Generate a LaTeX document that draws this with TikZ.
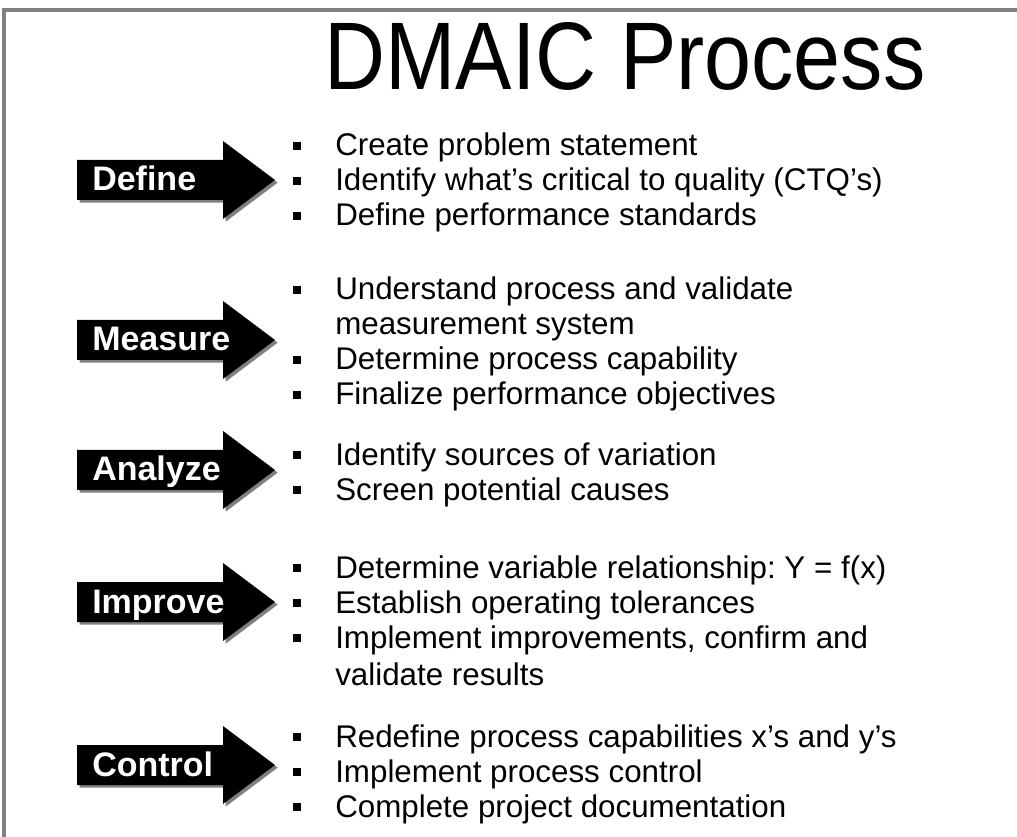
\documentclass[tikz,border=0pt]{standalone}
\usepackage{fontspec}
\setmainfont{Liberation Sans}
\frenchspacing

\begin{document}
\begin{tikzpicture}[x=0.75pt, y=-0.75pt,
    stepLabel/.style={anchor=base west, inner sep=0pt, text=white, font=\fontsize{25.5}{28}\selectfont\bfseries},
    bulletText/.style={anchor=base west, inner sep=0pt, font=\fontsize{23.5}{27}\selectfont},
    bulletMark/.style={fill=black, inner sep=0pt, minimum size=6pt}]
				
				% page and frame
				\useasboundingbox (0,0) rectangle (1017,837);
				\draw[gray, line width=2.5pt] (4,837) -- (4,10) -- (1017,10);
				
				% title
				\node[anchor=base, inner sep=0pt, xscale=0.88, font=\fontsize{72}{78}\selectfont] (title) at (625,90) {DMAIC Process};
				
				% draw the block arrows with their shadow
				\foreach \y in {180,340,470,602,765}
				{
				\fill[black!50, xshift=2pt, yshift=-2pt] (77,\y-20) -- (223,\y-20) -- (223,\y-39) -- (275,\y) -- (223,\y+39) -- (223,\y+20) -- (77,\y+20) -- cycle;
				\fill[black] (77,\y-20) -- (223,\y-20) -- (223,\y-39) -- (275,\y) -- (223,\y+39) -- (223,\y+20) -- (77,\y+20) -- cycle;
				}
				
				% step names
				\node[stepLabel] (define) at (92,191) {Define};
				\node[stepLabel] (measure) at (92,351) {Measure};
				\node[stepLabel] (analyze) at (92,481) {Analyze};
				\node[stepLabel] (improve) at (92,613) {Improve};
				\node[stepLabel] (control) at (92,776) {Control};
				
				% define
				\node[bulletMark] (d1) at (297,146) {};
				\node[bulletText] (d1t) at (335,156) {Create problem statement};
				\node[bulletMark] (d2) at (297,181) {};
				\node[bulletText] (d2t) at (335,191) {Identify what’s critical to quality (CTQ’s)};
				\node[bulletMark] (d3) at (297,216) {};
				\node[bulletText] (d3t) at (335,226) {Define performance standards};
				
				% measure
				\node[bulletMark] (m1) at (297,290) {};
				\node[bulletText] (m1t) at (335,300) {Understand process and validate};
				\node[bulletText] (m1u) at (335,335) {measurement system};
				\node[bulletMark] (m2) at (297,360) {};
				\node[bulletText] (m2t) at (335,370) {Determine process capability};
				\node[bulletMark] (m3) at (297,395) {};
				\node[bulletText] (m3t) at (335,405) {Finalize performance objectives};
				
				% analyze
				\node[bulletMark] (a1) at (297,455) {};
				\node[bulletText] (a1t) at (335,465) {Identify sources of variation};
				\node[bulletMark] (a2) at (297,490) {};
				\node[bulletText] (a2t) at (335,500) {Screen potential causes};
				
				% improve
				\node[bulletMark] (i1) at (297,568) {};
				\node[bulletText] (i1t) at (335,578) {Determine variable relationship: Y = f(x)};
				\node[bulletMark] (i2) at (297,603) {};
				\node[bulletText] (i2t) at (335,613) {Establish operating tolerances};
				\node[bulletMark] (i3) at (297,638) {};
				\node[bulletText] (i3t) at (335,648) {Implement improvements, confirm and};
				\node[bulletText] (i3u) at (335,685) {validate results};
				
				% control
				\node[bulletMark] (c1) at (297,737) {};
				\node[bulletText] (c1t) at (335,747) {Redefine process capabilities x’s and y’s};
				\node[bulletMark] (c2) at (297,772) {};
				\node[bulletText] (c2t) at (335,782) {Implement process control};
				\node[bulletMark] (c3) at (297,807) {};
				\node[bulletText] (c3t) at (335,817) {Complete project documentation};
			\end{tikzpicture}
\end{document}
